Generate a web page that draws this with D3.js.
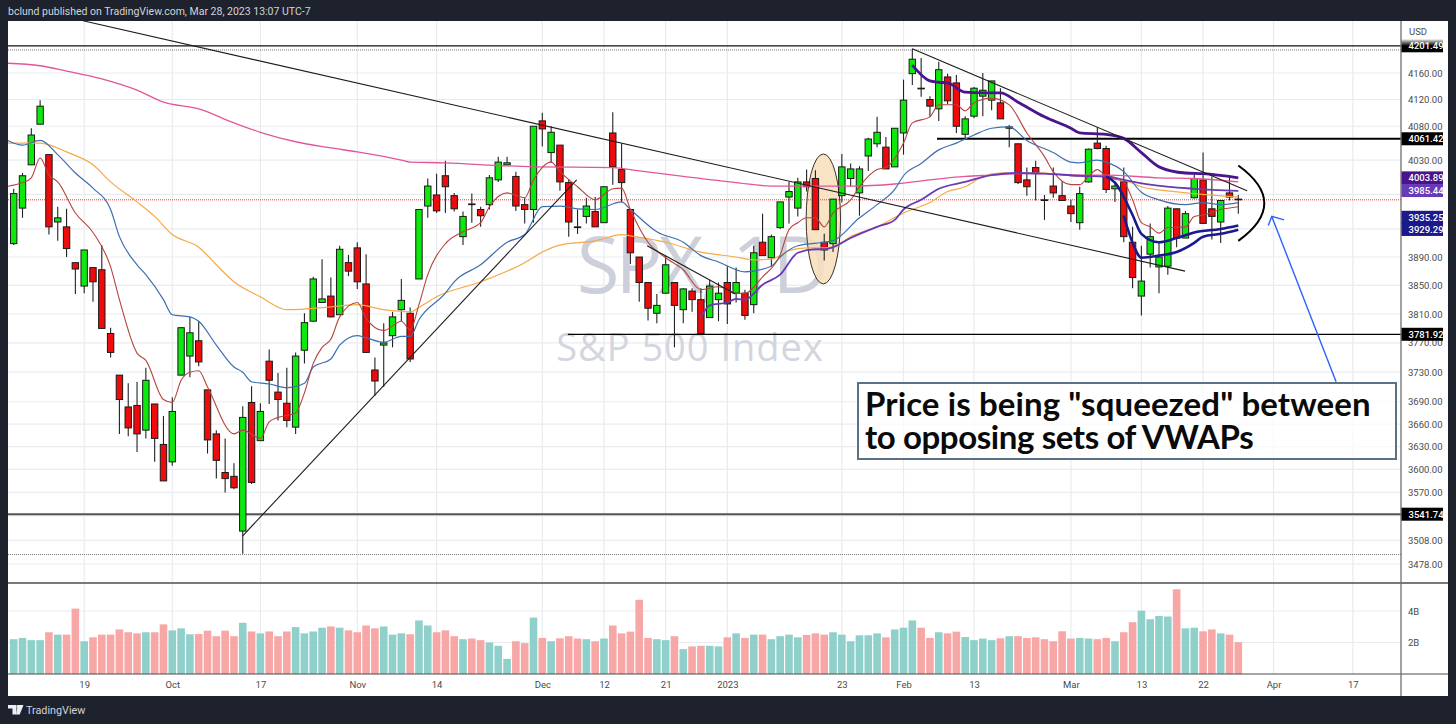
<!DOCTYPE html>
<html>
<head>
<meta charset="utf-8">
<script src="https://cdn.jsdelivr.net/npm/d3@7"></script>
<style>
  html, body { margin: 0; padding: 0; background: #1e222d; }
  svg { display: block; font-family: "Roboto", sans-serif; }
</style>
</head>
<body>
<svg id="chart" width="1456" height="724"></svg>
<script>
// S&P 500 daily bars, bar 0 is Sep 7 2022, bar 139 is Mar 28 2023
const opens = [3909,3960,4023,4083,4038,3940,3933,3882,3849,3875,3872,3783,3726,3683,3685,3652,3687,3633,3610,3726,3752,3773,3706,3647,3596,3591,3520,3689,3638,3745,3703,3688,3656,3760,3800,3826,3835,3809,3882,3903,3852,3733,3767,3780,3816,3811,3859,3963,3979,4007,3978,3919,3966,3958,3965,4001,4023,4006,3965,3958,4088,4041,4052,3997,3933,3948,3955,3939,4070,4016,3958,3890,3854,3811,3839,3854,3816,3842,3830,3805,3830,3854,3839,3839,3823,3911,3889,3932,3976,3960,3998,4003,3911,3909,3978,4003,3982,4036,4054,4049,4020,4070,4159,4137,4120,4106,4154,4145,4068,4095,4125,4119,4115,4077,4054,4001,4019,3972,3992,3978,3963,3939,3998,4055,4047,3988,3998,3911,3835,3894,3876,3877,3959,3917,3975,4001,3959,3940,3982,3973];
const highs = [3988,4011,4077,4119,4038,3962,3959,3882,3900,3875,3907,3791,3726,3715,3717,3736,3687,3671,3696,3792,3806,3800,3706,3652,3641,3608,3684,3711,3688,3761,3729,3736,3757,3811,3862,3887,3861,3906,3893,3911,3894,3750,3797,3813,3859,3819,3958,4003,4010,4029,3982,3955,3981,3962,4008,4035,4035,4013,3975,4080,4100,4080,4052,4001,3958,3975,3976,3991,4101,4054,3958,3890,3854,3838,3892,3854,3846,3846,3846,3858,3854,3877,3875,3844,3906,3952,3922,3969,3998,4004,4016,4015,3923,3973,4039,4025,4021,4063,4094,4064,4077,4150,4197,4183,4125,4177,4159,4157,4095,4139,4160,4148,4137,4082,4054,4019,4029,3979,4019,3999,3972,3991,4047,4079,4051,3998,4019,3933,3906,3938,3910,3963,3959,3956,4011,4041,4006,3971,4006,3979];
const lows = [3907,3946,4023,4083,3922,3913,3890,3838,3839,3827,3790,3750,3647,3644,3623,3641,3610,3585,3605,3726,3723,3738,3621,3588,3570,3574,3491,3581,3638,3687,3665,3656,3647,3742,3800,3826,3805,3809,3863,3845,3757,3698,3710,3764,3800,3744,3859,3946,3953,3953,3955,3907,3939,3933,3958,3998,4023,3956,3938,3939,4050,4026,3985,3919,3923,3938,3933,3939,3994,3968,3880,3827,3801,3797,3839,3764,3797,3813,3783,3805,3800,3796,3826,3802,3811,3892,3877,3930,3938,3948,3984,3929,3885,3897,3968,3991,3949,4014,4049,4017,4020,4038,4142,4124,4094,4088,4113,4070,4062,4092,4095,4104,4091,4049,3995,3978,3971,3943,3975,3971,3940,3929,3997,4046,3982,3969,3911,3846,3808,3875,3839,3865,3904,3917,3974,3938,3915,3910,3971,3952];
const closes = [3981,4007,4067,4110,3933,3946,3902,3873,3900,3855,3790,3757,3693,3655,3647,3719,3641,3585,3677,3791,3784,3744,3639,3612,3588,3576,3669,3583,3677,3719,3693,3665,3752,3798,3859,3831,3806,3901,3870,3855,3757,3718,3770,3806,3829,3748,3958,3992,3956,3991,3959,3948,3965,3949,4004,4027,4026,3963,3958,4080,4076,4071,3998,3940,3932,3963,3933,3991,4020,3997,3896,3854,3818,3822,3879,3822,3845,3830,3783,3849,3839,3824,3854,3808,3896,3892,3919,3969,3984,3998,3991,3929,3900,3973,4020,4017,4017,4061,4071,4017,4077,4119,4181,4136,4110,4165,4118,4080,4091,4137,4134,4148,4091,4079,3997,3991,4011,3971,3982,3971,3952,3981,4046,4047,3987,3992,3919,3861,3856,3919,3890,3960,3917,3952,4003,3938,3948,3971,3976,3972];
const volumes = [2.21,2.29,2.15,2.15,2.65,2.5,2.5,4.15,2.08,2.33,2.5,2.5,2.83,2.65,2.58,2.65,2.65,3.15,2.77,2.9,2.52,2.54,2.75,2.4,2.75,2.4,3.25,2.7,2.58,2.7,2.4,2.7,2.98,2.58,2.7,2.94,3.02,2.94,2.77,2.65,3.08,2.9,3.02,2.5,2.58,2.52,3.4,3.08,2.65,2.77,2.4,2.21,2.25,2.15,2.0,1.79,0.96,2.08,1.96,3.58,2.29,2.08,2.27,2.4,2.25,2.21,2.08,2.25,3.08,2.58,2.69,4.71,2.29,2.21,2.15,2.4,1.58,1.75,1.79,1.79,1.75,2.33,2.58,2.29,2.5,2.5,2.21,2.4,2.5,2.33,2.48,2.58,2.5,2.65,2.5,2.08,2.46,2.46,2.58,2.33,2.83,2.94,3.4,2.94,2.29,2.65,2.58,2.69,2.35,2.15,2.25,2.15,2.27,2.4,2.4,2.29,2.33,2.21,2.08,2.71,2.25,2.29,2.25,2.21,2.29,2.08,2.65,3.29,4.02,3.48,3.69,3.65,5.38,2.9,2.94,2.71,2.83,2.58,2.5,2.02];

// moving averages and anchored vwaps as [bar, price] read at the turning points
const emaFast = [[-1,3991],[1,3997],[2,4004],[3,4033],[4,4008],[5,3998],[7,3953],[9,3925],[11,3876],[12,3830],[14,3756],[15,3746],[17,3693],[18,3689],[19,3719],[20,3730],[21,3732],[22,3710],[25,3647],[26,3652],[28,3641],[29,3663],[30,3669],[32,3675],[33,3702],[34,3742],[35,3764],[36,3775],[37,3806],[39,3826],[40,3804],[42,3787],[44,3800],[45,3788],[46,3823],[47,3865],[49,3909],[51,3926],[53,3939],[54,3962],[56,3982],[58,3975],[59,4001],[61,4027],[62,4013],[64,3991],[66,3972],[68,3988],[69,3989],[70,3958],[72,3911],[74,3889],[76,3872],[78,3844],[80,3848],[82,3839],[83,3839],[85,3862],[87,3893],[88,3929],[89,3939],[90,3946],[91,3946],[92,3933],[93,3953],[95,3972],[96,3991],[98,4016],[99,4019],[101,4055],[102,4085],[104,4094],[105,4112],[107,4112],[108,4103],[109,4115],[111,4122],[113,4112],[115,4070],[117,4035],[118,4013],[120,3994],[121,3994],[122,4006],[123,4016],[124,4006],[126,3998],[127,3972],[128,3939],[129,3933],[130,3924],[131,3932],[133,3933],[134,3948],[135,3950],[137,3958],[139,3962]];
const emaMid = [[-1,4061],[1,4052],[3,4059],[5,4038],[7,4011],[9,3989],[11,3958],[12,3919],[14,3879],[15,3865],[17,3830],[18,3809],[20,3806],[21,3800],[23,3767],[25,3737],[26,3730],[27,3717],[29,3714],[31,3709],[33,3715],[34,3737],[36,3748],[37,3767],[39,3780],[40,3777],[42,3771],[44,3779],[45,3779],[46,3802],[49,3839],[50,3855],[53,3879],[56,3911],[58,3922],[60,3962],[62,3963],[64,3959],[66,3958],[69,3969],[70,3958],[73,3926],[76,3911],[78,3892],[80,3883],[83,3869],[86,3877],[87,3890],[89,3906],[92,3911],[93,3913],[96,3946],[98,3965],[100,3987],[101,4007],[103,4025],[105,4045],[107,4055],[109,4067],[111,4077],[113,4079],[115,4059],[118,4041],[120,4027],[121,4026],[123,4030],[124,4027],[126,4013],[128,3983],[130,3972],[133,3965],[135,3968],[137,3965],[139,3968]];
const emaSlow = [[-1,4055],[3,4055],[6,4042],[9,4023],[11,3998],[14,3969],[16,3948],[18,3922],[21,3904],[23,3879],[25,3855],[28,3834],[31,3816],[36,3820],[39,3823],[42,3816],[45,3813],[46,3819],[48,3834],[53,3855],[58,3882],[60,3897],[62,3907],[66,3913],[69,3922],[70,3920],[74,3911],[78,3897],[82,3890],[84,3886],[86,3887],[88,3899],[90,3903],[92,3903],[93,3904],[95,3919],[98,3933],[101,3953],[104,3968],[106,3984],[108,3991],[110,4006],[112,4011],[117,4011],[121,4006],[124,4006],[126,4001],[128,3991],[131,3985],[134,3981],[139,3976]];
const ema200 = [[-1,4175],[3,4171],[6,4163],[10,4151],[14,4134],[17,4116],[21,4106],[25,4085],[28,4071],[32,4057],[36,4048],[39,4042],[44,4030],[45,4027],[49,4026],[55,4022],[59,4020],[68,4019],[71,4014],[76,4006],[82,3997],[86,3992],[95,3992],[100,3995],[104,4001],[108,4006],[111,4008],[114,4010],[117,4010],[121,4008],[124,4008],[130,4004],[134,4003],[139,3998]];
const vwapJan = [[78,3805],[79,3822],[81,3826],[82,3831],[83,3830],[85,3851],[87,3865],[89,3896],[91,3901],[92,3901],[93,3904],[95,3917],[98,3933],[100,3943],[101,3958],[103,3972],[105,3988],[108,3998],[111,4008],[114,4011],[117,4010],[121,4007],[124,4006],[126,4001],[129,3994],[134,3988],[139,3985]];
const vwapFeb = [[102,4172],[104,4148],[105,4146],[106,4145],[108,4131],[110,4130],[112,4130],[114,4116],[117,4094],[120,4077],[121,4070],[124,4068],[126,4062],[128,4041],[130,4020],[133,4011],[135,4010],[139,4004]];
const vwapMarA = [[124,4006],[125,3997],[127,3950],[128,3923],[130,3911],[132,3917],[134,3925],[137,3930],[139,3935]];
const vwapMarB = [[126,3949],[127,3910],[128,3889],[130,3892],[132,3897],[134,3910],[135,3919],[137,3923],[139,3929]];

const priceTicks = [4160,4120,4080,4030,3890,3850,3810,3770,3730,3690,3660,3630,3600,3570,3508,3478];
const hiddenGrid = [3980,3930,3540];
const dateBars = [8,18,28,39,48,60,67,74,81,94,101,109,120,128,135,143,152];
const dateLabels = ["19","Oct","17","Nov","14","Dec","12","21","2023","23","Feb","13","Mar","13","22","Apr","17"];
const volumeTicks = [2,4];

// the things bclund drew on the chart, all [bar, price]
const trendLines = [
  [[7.87,4240],[132.96,3870]],
  [[26,3514],[63.9,4001]],
  [[71.9,3906],[81.9,3838]],
  [[102,4197],[140,3985]]
];
const levels = [
  {price: 4201.49, from: -1, width: 1.3, color: "#111"},
  {price: 4061.42, from: 104.8, width: 2, color: "#000"},
  {price: 3781.92, from: 62.9, width: 1.3, color: "#000"},
  {price: 3541.74, from: -1, width: 2, color: "#555"}
];
// shift: tags get pushed up so the two close ones don't cover each other
const sideLabels = [
  {price: 4201.49, text: "4201.49", color: "#000", shift: 0},
  {price: 4061.42, text: "4061.42", color: "#000", shift: 0},
  {price: 3781.92, text: "3781.92", color: "#000", shift: 0},
  {price: 3541.74, text: "3541.74", color: "#000", shift: 0},
  {price: 4003.89, text: "4003.89", color: "#4a148c", shift: 0},
  {price: 3985.44, text: "3985.44", color: "#673ab7", shift: 0},
  {price: 3935.25, text: "3935.25", color: "#1a1a8c", shift: -8},
  {price: 3929.29, text: "3929.29", color: "#1a1a8c", shift: 0}
];
const highMark = 4195, lowMark = 3490, lastClose = 3972;
const noteLines = ['Price is being "squeezed" between', 'to opposing sets of VWAPs'];

const svg = d3.select("#chart");

const x = d3.scaleLinear().domain([0, 139]).range([13.7, 1238.3]);
const y = d3.scaleLog().domain([4160, 3478]).range([73, 564]);
const yVol = d3.scaleLinear().domain([0, 4]).range([674, 611]);

const plotLeft = 8, plotRight = 1401, plotTop = 21, plotBottom = 696, paneLine = 583, volBase = 674;

// white panel first
svg.append("rect").attr("x", plotLeft).attr("y", plotTop)
  .attr("width", 1448 - plotLeft).attr("height", plotBottom - plotTop).attr("fill", "#fff");

const defs = svg.append("defs");
defs.append("clipPath").attr("id", "plot")
  .append("rect").attr("x", plotLeft).attr("y", plotTop)
  .attr("width", plotRight - plotLeft).attr("height", plotBottom - plotTop);

const fade = defs.append("linearGradient").attr("id", "fade").attr("x1", 0).attr("x2", 0).attr("y1", 0).attr("y2", 1);
fade.append("stop").attr("offset", 0).attr("stop-color", "#000").attr("stop-opacity", 0.1);
fade.append("stop").attr("offset", 0.5).attr("stop-color", "#000");

const plot = svg.append("g").attr("clip-path", "url(#plot)");

// grid
const gridColor = "#e9ebef";
plot.append("g").selectAll("line").data(priceTicks.concat(hiddenGrid)).join("line")
  .attr("x1", plotLeft).attr("x2", plotRight)
  .attr("y1", d => y(d)).attr("y2", d => y(d))
  .attr("stroke", gridColor).attr("stroke-width", 1.2);
plot.append("g").selectAll("line").data(volumeTicks).join("line")
  .attr("x1", plotLeft).attr("x2", plotRight)
  .attr("y1", d => yVol(d)).attr("y2", d => yVol(d))
  .attr("stroke", gridColor).attr("stroke-width", 1.2);
plot.append("g").selectAll("line").data(dateBars).join("line")
  .attr("x1", d => x(d)).attr("x2", d => x(d))
  .attr("y1", plotTop).attr("y2", volBase)
  .attr("stroke", gridColor).attr("stroke-width", 1.2);

// watermark sits under everything
plot.append("text").text("SPX, 1D")
  .attr("x", 701).attr("y", 293).attr("text-anchor", "middle")
  .attr("font-family", "Open Sans").attr("font-size", 78).attr("letter-spacing", -4).attr("fill", "#cdd0da");
plot.append("text").text("S&P 500 Index")
  .attr("x", 690).attr("y", 361).attr("text-anchor", "middle")
  .attr("font-family", "Open Sans").attr("font-size", 38).attr("letter-spacing", 1).attr("fill", "#d3d6df");

// ellipse around the gap
const cyEllipse = (y(4039) + y(3852)) / 2;
plot.append("ellipse")
  .attr("cx", x(91.9)).attr("cy", cyEllipse)
  .attr("rx", x(93.85) - x(91.9)).attr("ry", (y(3852) - y(4039)) / 2)
  .attr("fill", "#f7dfbb").attr("fill-opacity", 0.85)
  .attr("stroke", "#3a3226").attr("stroke-width", 1);

// dotted high / low / last close
plot.selectAll(".mark").data([
  {p: highMark, c: "#777"}, {p: lowMark, c: "#777"}, {p: lastClose, c: "#e53935"}
]).join("line")
  .attr("class", "mark")
  .attr("x1", plotLeft).attr("x2", plotRight)
  .attr("y1", d => y(d.p)).attr("y2", d => y(d.p))
  .attr("stroke", d => d.c).attr("stroke-width", 1).attr("stroke-dasharray", "1 1");

// volume
const isUp = i => closes[i] >= opens[i];
plot.append("g").selectAll("rect").data(volumes).join("rect")
  .attr("x", (d, i) => x(i) - 3.8).attr("width", 7.6)
  .attr("y", d => yVol(d)).attr("height", d => yVol(0) - yVol(d))
  .attr("fill", (d, i) => isUp(i) ? "#8fd0ca" : "#f7a7a5");

// horizontal levels
plot.append("g").selectAll("line").data(levels).join("line")
  .attr("x1", d => x(d.from)).attr("x2", plotRight)
  .attr("y1", d => y(d.price)).attr("y2", d => y(d.price))
  .attr("stroke", d => d.color).attr("stroke-width", d => d.width);

// candles
const candles = plot.append("g").selectAll("g").data(opens).join("g");
candles.append("line")
  .attr("x1", (d, i) => x(i)).attr("x2", (d, i) => x(i))
  .attr("y1", (d, i) => y(highs[i])).attr("y2", (d, i) => y(lows[i]))
  .attr("stroke", "#222").attr("stroke-width", 1.1);
candles.append("rect")
  .attr("x", (d, i) => x(i) - 3.2).attr("width", 6.4)
  .attr("y", (d, i) => y(Math.max(opens[i], closes[i])))
  .attr("height", (d, i) => Math.max(0.5, y(Math.min(opens[i], closes[i])) - y(Math.max(opens[i], closes[i]))))
  .attr("fill", (d, i) => isUp(i) ? "#0de80d" : "#ee0b0b")
  .attr("stroke", "#1a1a1a").attr("stroke-width", 1);

// lines through [bar, price]
const line = d3.line().x(d => x(d[0])).y(d => y(d[1])).curve(d3.curveMonotoneX);
const series = [
  {data: ema200, color: "#e2569a", width: 1.3},
  {data: emaSlow, color: "#f6a945", width: 1.2},
  {data: emaMid, color: "#3d6fb0", width: 1.2},
  {data: emaFast, color: "#b5453d", width: 1.1},
  {data: vwapJan, color: "#673ab7", width: 1.8},
  {data: vwapFeb, color: "#4a148c", width: 2.8},
  {data: vwapMarA, color: "#1a1a8c", width: 2.6},
  {data: vwapMarB, color: "#1a1a8c", width: 2.6}
];
plot.append("g").selectAll("path").data(series).join("path")
  .attr("d", d => line(d.data))
  .attr("fill", "none")
  .attr("stroke", d => d.color)
  .attr("stroke-width", d => d.width);

// trendlines
plot.append("g").selectAll("line").data(trendLines).join("line")
  .attr("x1", d => x(d[0][0])).attr("y1", d => y(d[0][1]))
  .attr("x2", d => x(d[1][0])).attr("y2", d => y(d[1][1]))
  .attr("stroke", "#1c1c1c").attr("stroke-width", 1.1);

// the bracket around the squeeze
const arc = d3.path();
arc.moveTo(x(139), y(4022));
arc.quadraticCurveTo(x(144.9), y(3967), x(139), y(3913));
plot.append("path").attr("d", arc.toString())
  .attr("fill", "none").attr("stroke", "#000").attr("stroke-width", 2);

// blue arrow
const arrow = d3.line().x(d => x(d[0])).y(d => y(d[1]));
plot.append("path").attr("d", arrow([[150.1,3717],[142.8,3948]]))
  .attr("fill", "none").attr("stroke", "#2962ff").attr("stroke-width", 1.4);
plot.append("path").attr("d", arrow([[142.4,3935],[142.8,3948],[144.2,3943]]))
  .attr("fill", "none").attr("stroke", "#2962ff").attr("stroke-width", 1.4);

// note box
plot.append("rect")
  .attr("x", 858).attr("y", 383).attr("width", 538).attr("height", 76)
  .attr("fill", "#fff").attr("fill-opacity", 0.7)
  .attr("stroke", "#5a7186").attr("stroke-width", 2);
plot.append("g").selectAll("text").data(noteLines).join("text")
  .text(d => d)
  .attr("x", 865).attr("y", (d, i) => 416 + i * 33)
  .attr("font-family", "Lato").attr("font-weight", 700).attr("font-size", 33)
  .attr("letter-spacing", (d, i) => i ? -0.4 : 0.1)
  .attr("fill", "#0a0a0a");

// pane separators
svg.append("line").attr("x1", plotLeft).attr("x2", 1448).attr("y1", paneLine).attr("y2", paneLine)
  .attr("stroke", "#4c4c4c").attr("stroke-width", 1.3);
svg.append("line").attr("x1", plotLeft).attr("x2", 1448).attr("y1", volBase).attr("y2", volBase)
  .attr("stroke", "#4c4c4c").attr("stroke-width", 1.2);
svg.append("line").attr("x1", plotRight).attr("x2", plotRight).attr("y1", plotTop).attr("y2", plotBottom)
  .attr("stroke", "#6f6f6f").attr("stroke-width", 1.3);

// axes
const axisFont = "Roboto";
const priceAxis = svg.append("g").attr("transform", `translate(${plotRight},0)`)
  .call(d3.axisRight(y).tickValues(priceTicks).tickFormat(d3.format(".2f")).tickSize(0).tickPadding(7));
const volAxis = svg.append("g").attr("transform", `translate(${plotRight},0)`)
  .call(d3.axisRight(yVol).tickValues(volumeTicks).tickFormat(d => d + "B").tickSize(0).tickPadding(7));
const timeAxis = svg.append("g").attr("transform", `translate(0,${volBase})`)
  .call(d3.axisBottom(x).tickValues(dateBars).tickFormat((d, i) => dateLabels[i]).tickSize(0).tickPadding(7));
[priceAxis, volAxis, timeAxis].forEach(g => {
  g.select(".domain").remove();
  g.selectAll("text").attr("font-family", axisFont).attr("font-size", 9.5).attr("fill", "#4a4a4a");
});

svg.append("text").text("USD").attr("x", 1409).attr("y", 35)
  .attr("font-family", axisFont).attr("font-size", 9.5).attr("fill", "#4a4a4a");

// coloured price tags on the axis
const tags = svg.append("g").selectAll("g").data(sideLabels).join("g")
  .attr("transform", d => `translate(${plotRight + 0.5},${y(d.price) + d.shift})`);
tags.append("rect")
  .attr("x", 0).attr("y", -6.5).attr("width", 41.5).attr("height", 13)
  .attr("fill", d => d.text === "4201.49" ? "url(#fade)" : d.color);
tags.append("text").text(d => d.text)
  .attr("x", 7).attr("y", 3.6)
  .attr("font-family", axisFont).attr("font-size", 9.5).attr("font-weight", 500).attr("fill", "#fff");

// header and footer
svg.append("text").text("bclund published on TradingView.com, Mar 28, 2023 13:07 UTC-7")
  .attr("x", 8).attr("y", 15)
  .attr("font-family", "Roboto").attr("font-size", 10.5).attr("fill", "#d1d4dc");
svg.append("path")
  .attr("d", "M8,705 h8.5 v9.5 h-4 v-6 h-4.5 z M17.5,705 h6 l-3.8,9.5 h-3.2 z")
  .attr("fill", "#eceff5");
svg.append("circle").attr("cx", 18.2).attr("cy", 706.6).attr("r", 1.5).attr("fill", "#eceff5");
svg.append("text").text("TradingView").attr("x", 26).attr("y", 714)
  .attr("font-family", "Roboto").attr("font-size", 10.8).attr("fill", "#d1d4dc");
</script>
</body>
</html>
